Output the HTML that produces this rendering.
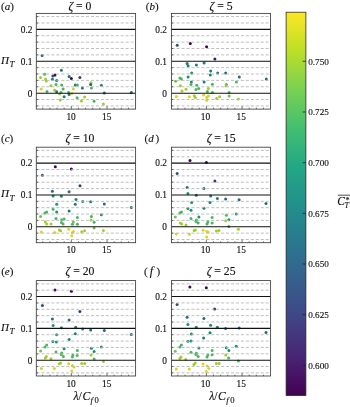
<!DOCTYPE html><html><head><meta charset="utf-8"><title>figure</title><style>html,body{margin:0;padding:0;background:#fff}svg{display:block}text{font-family:"Liberation Serif",serif;fill:#111;stroke:#111;stroke-width:0.13px;paint-order:stroke}</style></head><body>
<svg width="350" height="407" viewBox="0 0 350 407">
<defs><linearGradient id="vg" x1="0" y1="1" x2="0" y2="0">
<stop offset="0.00" stop-color="rgb(68,1,84)"/>
<stop offset="0.05" stop-color="rgb(70,18,100)"/>
<stop offset="0.10" stop-color="rgb(72,36,117)"/>
<stop offset="0.15" stop-color="rgb(68,52,126)"/>
<stop offset="0.20" stop-color="rgb(65,68,135)"/>
<stop offset="0.25" stop-color="rgb(59,82,138)"/>
<stop offset="0.30" stop-color="rgb(53,95,141)"/>
<stop offset="0.35" stop-color="rgb(48,108,142)"/>
<stop offset="0.40" stop-color="rgb(42,120,142)"/>
<stop offset="0.45" stop-color="rgb(38,132,141)"/>
<stop offset="0.50" stop-color="rgb(33,145,140)"/>
<stop offset="0.55" stop-color="rgb(34,156,136)"/>
<stop offset="0.60" stop-color="rgb(34,168,132)"/>
<stop offset="0.65" stop-color="rgb(51,180,122)"/>
<stop offset="0.70" stop-color="rgb(68,191,112)"/>
<stop offset="0.75" stop-color="rgb(95,200,96)"/>
<stop offset="0.80" stop-color="rgb(122,209,81)"/>
<stop offset="0.85" stop-color="rgb(155,216,60)"/>
<stop offset="0.90" stop-color="rgb(189,223,38)"/>
<stop offset="0.95" stop-color="rgb(221,227,38)"/>
<stop offset="1.00" stop-color="rgb(253,231,37)"/>
</linearGradient></defs>
<rect width="350" height="407" fill="#fff"/>
<circle cx="42.1" cy="55.4" r="1.5" fill="rgb(45,81,121)"/>
<circle cx="44.6" cy="74.3" r="1.5" fill="rgb(73,181,98)"/>
<circle cx="40.6" cy="77.4" r="1.5" fill="rgb(163,204,43)"/>
<circle cx="45.6" cy="78.9" r="1.5" fill="rgb(163,204,43)"/>
<circle cx="46.3" cy="81.0" r="1.5" fill="rgb(163,204,43)"/>
<circle cx="41.3" cy="88.9" r="1.5" fill="rgb(217,212,34)"/>
<circle cx="47.0" cy="91.4" r="1.5" fill="rgb(73,181,98)"/>
<circle cx="51.0" cy="85.7" r="1.5" fill="rgb(163,204,43)"/>
<circle cx="52.9" cy="76.0" r="1.5" fill="rgb(45,81,121)"/>
<circle cx="55.0" cy="75.0" r="1.5" fill="rgb(59,6,78)"/>
<circle cx="52.4" cy="79.3" r="1.5" fill="rgb(28,124,120)"/>
<circle cx="56.7" cy="80.6" r="1.5" fill="rgb(28,124,120)"/>
<circle cx="56.0" cy="84.6" r="1.5" fill="rgb(73,181,98)"/>
<circle cx="54.6" cy="90.3" r="1.5" fill="rgb(163,204,43)"/>
<circle cx="56.7" cy="91.7" r="1.5" fill="rgb(28,124,120)"/>
<circle cx="61.4" cy="70.3" r="1.5" fill="rgb(28,124,120)"/>
<circle cx="61.7" cy="85.0" r="1.5" fill="rgb(73,181,98)"/>
<circle cx="63.1" cy="88.9" r="1.5" fill="rgb(73,181,98)"/>
<circle cx="61.0" cy="92.4" r="1.5" fill="rgb(73,181,98)"/>
<circle cx="59.6" cy="93.9" r="1.5" fill="rgb(163,204,43)"/>
<circle cx="60.3" cy="99.9" r="1.5" fill="rgb(163,204,43)"/>
<circle cx="64.1" cy="96.7" r="1.5" fill="rgb(28,124,120)"/>
<circle cx="69.1" cy="76.4" r="1.5" fill="rgb(34,107,122)"/>
<circle cx="71.4" cy="78.4" r="1.5" fill="rgb(59,6,78)"/>
<circle cx="68.6" cy="92.4" r="1.5" fill="rgb(73,181,98)"/>
<circle cx="69.1" cy="94.6" r="1.5" fill="rgb(28,124,120)"/>
<circle cx="72.0" cy="93.6" r="1.5" fill="rgb(217,212,34)"/>
<circle cx="73.4" cy="88.9" r="1.5" fill="rgb(217,212,34)"/>
<circle cx="75.3" cy="85.0" r="1.5" fill="rgb(28,124,120)"/>
<circle cx="77.4" cy="85.0" r="1.5" fill="rgb(73,181,98)"/>
<circle cx="79.9" cy="77.4" r="1.5" fill="rgb(55,58,116)"/>
<circle cx="82.4" cy="88.1" r="1.5" fill="rgb(34,107,122)"/>
<circle cx="77.1" cy="97.7" r="1.5" fill="rgb(73,181,98)"/>
<circle cx="81.4" cy="101.0" r="1.5" fill="rgb(163,204,43)"/>
<circle cx="84.6" cy="97.1" r="1.5" fill="rgb(163,204,43)"/>
<circle cx="91.0" cy="82.7" r="1.5" fill="rgb(163,204,43)"/>
<circle cx="90.7" cy="84.6" r="1.5" fill="rgb(39,94,122)"/>
<circle cx="91.4" cy="88.1" r="1.5" fill="rgb(73,181,98)"/>
<circle cx="101.4" cy="85.3" r="1.5" fill="rgb(29,144,113)"/>
<circle cx="104.3" cy="93.1" r="1.5" fill="rgb(34,107,122)"/>
<circle cx="131.3" cy="92.4" r="1.5" fill="rgb(34,107,122)"/>
<circle cx="94.1" cy="101.3" r="1.5" fill="rgb(73,181,98)"/>
<circle cx="103.4" cy="103.9" r="1.5" fill="rgb(163,204,43)"/>
<line x1="36.3" x2="135.6" y1="105.91" y2="105.91" stroke="#b8b8b8" stroke-width="0.9" stroke-dasharray="3.05 1.9" stroke-dashoffset="-0.2"/>
<line x1="36.3" x2="38.0" y1="105.91" y2="105.91" stroke="#333" stroke-width="0.7"/>
<line x1="36.3" x2="135.6" y1="99.53" y2="99.53" stroke="#b8b8b8" stroke-width="0.9" stroke-dasharray="3.05 1.9" stroke-dashoffset="-0.2"/>
<line x1="36.3" x2="38.0" y1="99.53" y2="99.53" stroke="#333" stroke-width="0.7"/>
<line x1="36.3" x2="135.6" y1="86.77" y2="86.77" stroke="#b8b8b8" stroke-width="0.9" stroke-dasharray="3.05 1.9" stroke-dashoffset="-0.2"/>
<line x1="36.3" x2="38.0" y1="86.77" y2="86.77" stroke="#333" stroke-width="0.7"/>
<line x1="36.3" x2="135.6" y1="80.39" y2="80.39" stroke="#b8b8b8" stroke-width="0.9" stroke-dasharray="3.05 1.9" stroke-dashoffset="-0.2"/>
<line x1="36.3" x2="38.0" y1="80.39" y2="80.39" stroke="#333" stroke-width="0.7"/>
<line x1="36.3" x2="135.6" y1="74.01" y2="74.01" stroke="#b8b8b8" stroke-width="0.9" stroke-dasharray="3.05 1.9" stroke-dashoffset="-0.2"/>
<line x1="36.3" x2="38.0" y1="74.01" y2="74.01" stroke="#333" stroke-width="0.7"/>
<line x1="36.3" x2="135.6" y1="67.63" y2="67.63" stroke="#b8b8b8" stroke-width="0.9" stroke-dasharray="3.05 1.9" stroke-dashoffset="-0.2"/>
<line x1="36.3" x2="38.0" y1="67.63" y2="67.63" stroke="#333" stroke-width="0.7"/>
<line x1="36.3" x2="135.6" y1="54.87" y2="54.87" stroke="#b8b8b8" stroke-width="0.9" stroke-dasharray="3.05 1.9" stroke-dashoffset="-0.2"/>
<line x1="36.3" x2="38.0" y1="54.87" y2="54.87" stroke="#333" stroke-width="0.7"/>
<line x1="36.3" x2="135.6" y1="48.49" y2="48.49" stroke="#b8b8b8" stroke-width="0.9" stroke-dasharray="3.05 1.9" stroke-dashoffset="-0.2"/>
<line x1="36.3" x2="38.0" y1="48.49" y2="48.49" stroke="#333" stroke-width="0.7"/>
<line x1="36.3" x2="135.6" y1="42.11" y2="42.11" stroke="#b8b8b8" stroke-width="0.9" stroke-dasharray="3.05 1.9" stroke-dashoffset="-0.2"/>
<line x1="36.3" x2="38.0" y1="42.11" y2="42.11" stroke="#333" stroke-width="0.7"/>
<line x1="36.3" x2="135.6" y1="35.73" y2="35.73" stroke="#b8b8b8" stroke-width="0.9" stroke-dasharray="3.05 1.9" stroke-dashoffset="-0.2"/>
<line x1="36.3" x2="38.0" y1="35.73" y2="35.73" stroke="#333" stroke-width="0.7"/>
<line x1="36.3" x2="135.6" y1="22.97" y2="22.97" stroke="#b8b8b8" stroke-width="0.9" stroke-dasharray="3.05 1.9" stroke-dashoffset="-0.2"/>
<line x1="36.3" x2="38.0" y1="22.97" y2="22.97" stroke="#333" stroke-width="0.7"/>
<line x1="36.3" x2="135.6" y1="16.59" y2="16.59" stroke="#b8b8b8" stroke-width="0.9" stroke-dasharray="3.05 1.9" stroke-dashoffset="-0.2"/>
<line x1="36.3" x2="38.0" y1="16.59" y2="16.59" stroke="#333" stroke-width="0.7"/>
<line x1="36.3" x2="135.6" y1="93.15" y2="93.15" stroke="#111" stroke-width="1.05"/>
<text x="32.4" y="96.85" font-size="9.35" text-anchor="end">0</text>
<line x1="36.3" x2="135.6" y1="61.25" y2="61.25" stroke="#111" stroke-width="1.05"/>
<text x="32.4" y="64.95" font-size="9.35" text-anchor="end">0.1</text>
<line x1="36.3" x2="135.6" y1="29.35" y2="29.35" stroke="#111" stroke-width="1.05"/>
<text x="32.4" y="33.05" font-size="9.35" text-anchor="end">0.2</text>
<line x1="42.73" x2="42.73" y1="109.1" y2="107.7" stroke="#333" stroke-width="0.7"/>
<line x1="49.87" x2="49.87" y1="109.1" y2="107.7" stroke="#333" stroke-width="0.7"/>
<line x1="57.02" x2="57.02" y1="109.1" y2="107.7" stroke="#333" stroke-width="0.7"/>
<line x1="64.16" x2="64.16" y1="109.1" y2="107.7" stroke="#333" stroke-width="0.7"/>
<line x1="71.31" x2="71.31" y1="109.1" y2="106.1" stroke="#333" stroke-width="0.7"/>
<text x="71.1" y="119.8" font-size="9.4" text-anchor="middle">10</text>
<line x1="78.45" x2="78.45" y1="109.1" y2="107.7" stroke="#333" stroke-width="0.7"/>
<line x1="85.59" x2="85.59" y1="109.1" y2="107.7" stroke="#333" stroke-width="0.7"/>
<line x1="92.74" x2="92.74" y1="109.1" y2="107.7" stroke="#333" stroke-width="0.7"/>
<line x1="99.88" x2="99.88" y1="109.1" y2="107.7" stroke="#333" stroke-width="0.7"/>
<line x1="107.02" x2="107.02" y1="109.1" y2="106.1" stroke="#333" stroke-width="0.7"/>
<text x="106.8" y="119.8" font-size="9.4" text-anchor="middle">15</text>
<line x1="114.17" x2="114.17" y1="109.1" y2="107.7" stroke="#333" stroke-width="0.7"/>
<line x1="121.31" x2="121.31" y1="109.1" y2="107.7" stroke="#333" stroke-width="0.7"/>
<line x1="128.46" x2="128.46" y1="109.1" y2="107.7" stroke="#333" stroke-width="0.7"/>
<rect x="36.3" y="13.4" width="99.3" height="95.7" fill="none" stroke="#3c3c3c" stroke-width="0.85"/>
<text x="79.9" y="10.3" font-size="11.7" text-anchor="middle"><tspan font-style="italic">ζ</tspan> = 0</text>
<text x="1.0" y="10.05" font-size="11">(<tspan font-style="italic" font-size="11" dx="0">a</tspan><tspan dx="0">)</tspan></text>
<text x="1.0" y="63.6" font-size="11" font-style="italic">Π</text><text x="9.6" y="66.8" font-size="8.8" font-style="italic">T</text>
<circle cx="177.2" cy="45.2" r="1.5" fill="rgb(45,81,121)"/>
<circle cx="190.3" cy="43.5" r="1.5" fill="rgb(59,6,78)"/>
<circle cx="206.6" cy="46.7" r="1.5" fill="rgb(59,6,78)"/>
<circle cx="214.9" cy="58.9" r="1.5" fill="rgb(61,30,100)"/>
<circle cx="187.1" cy="63.6" r="1.5" fill="rgb(28,124,120)"/>
<circle cx="188.1" cy="65.7" r="1.5" fill="rgb(28,124,120)"/>
<circle cx="196.4" cy="64.9" r="1.5" fill="rgb(28,124,120)"/>
<circle cx="204.1" cy="63.1" r="1.5" fill="rgb(28,124,120)"/>
<circle cx="210.7" cy="71.0" r="1.5" fill="rgb(28,124,120)"/>
<circle cx="191.7" cy="73.1" r="1.5" fill="rgb(29,144,113)"/>
<circle cx="210.3" cy="75.0" r="1.5" fill="rgb(28,124,120)"/>
<circle cx="217.7" cy="73.1" r="1.5" fill="rgb(28,124,120)"/>
<circle cx="188.1" cy="77.1" r="1.5" fill="rgb(29,144,113)"/>
<circle cx="179.9" cy="77.9" r="1.5" fill="rgb(73,181,98)"/>
<circle cx="181.4" cy="78.9" r="1.5" fill="rgb(73,181,98)"/>
<circle cx="175.6" cy="81.3" r="1.5" fill="rgb(113,194,75)"/>
<circle cx="191.4" cy="82.1" r="1.5" fill="rgb(29,144,113)"/>
<circle cx="191.0" cy="84.6" r="1.5" fill="rgb(73,181,98)"/>
<circle cx="204.1" cy="82.1" r="1.5" fill="rgb(28,124,120)"/>
<circle cx="212.4" cy="84.3" r="1.5" fill="rgb(73,181,98)"/>
<circle cx="180.3" cy="85.7" r="1.5" fill="rgb(163,204,43)"/>
<circle cx="196.7" cy="85.3" r="1.5" fill="rgb(73,181,98)"/>
<circle cx="198.6" cy="88.4" r="1.5" fill="rgb(73,181,98)"/>
<circle cx="196.0" cy="89.6" r="1.5" fill="rgb(73,181,98)"/>
<circle cx="186.0" cy="89.3" r="1.5" fill="rgb(163,204,43)"/>
<circle cx="182.0" cy="91.0" r="1.5" fill="rgb(163,204,43)"/>
<circle cx="208.4" cy="88.4" r="1.5" fill="rgb(163,204,43)"/>
<circle cx="207.4" cy="91.4" r="1.5" fill="rgb(73,181,98)"/>
<circle cx="212.4" cy="92.4" r="1.5" fill="rgb(73,181,98)"/>
<circle cx="176.3" cy="96.4" r="1.5" fill="rgb(217,212,34)"/>
<circle cx="189.3" cy="96.7" r="1.5" fill="rgb(217,212,34)"/>
<circle cx="194.3" cy="95.7" r="1.5" fill="rgb(163,204,43)"/>
<circle cx="195.3" cy="97.4" r="1.5" fill="rgb(163,204,43)"/>
<circle cx="203.6" cy="95.0" r="1.5" fill="rgb(217,212,34)"/>
<circle cx="208.4" cy="96.0" r="1.5" fill="rgb(217,212,34)"/>
<circle cx="206.7" cy="97.4" r="1.5" fill="rgb(217,212,34)"/>
<circle cx="206.7" cy="100.3" r="1.5" fill="rgb(217,212,34)"/>
<circle cx="216.7" cy="98.4" r="1.5" fill="rgb(163,204,43)"/>
<circle cx="219.6" cy="96.7" r="1.5" fill="rgb(163,204,43)"/>
<circle cx="225.7" cy="72.9" r="1.5" fill="rgb(34,107,122)"/>
<circle cx="239.3" cy="77.0" r="1.5" fill="rgb(34,107,122)"/>
<circle cx="266.3" cy="79.1" r="1.5" fill="rgb(34,107,122)"/>
<circle cx="236.4" cy="82.1" r="1.5" fill="rgb(73,181,98)"/>
<circle cx="226.4" cy="84.6" r="1.5" fill="rgb(73,181,98)"/>
<circle cx="226.0" cy="85.7" r="1.5" fill="rgb(163,204,43)"/>
<circle cx="229.1" cy="92.4" r="1.5" fill="rgb(73,181,98)"/>
<circle cx="229.1" cy="96.0" r="1.5" fill="rgb(113,194,75)"/>
<circle cx="238.4" cy="98.9" r="1.5" fill="rgb(163,204,43)"/>
<line x1="171.4" x2="270.6" y1="105.91" y2="105.91" stroke="#b8b8b8" stroke-width="0.9" stroke-dasharray="3.05 1.9" stroke-dashoffset="-0.2"/>
<line x1="171.4" x2="173.1" y1="105.91" y2="105.91" stroke="#333" stroke-width="0.7"/>
<line x1="171.4" x2="270.6" y1="99.53" y2="99.53" stroke="#b8b8b8" stroke-width="0.9" stroke-dasharray="3.05 1.9" stroke-dashoffset="-0.2"/>
<line x1="171.4" x2="173.1" y1="99.53" y2="99.53" stroke="#333" stroke-width="0.7"/>
<line x1="171.4" x2="270.6" y1="86.77" y2="86.77" stroke="#b8b8b8" stroke-width="0.9" stroke-dasharray="3.05 1.9" stroke-dashoffset="-0.2"/>
<line x1="171.4" x2="173.1" y1="86.77" y2="86.77" stroke="#333" stroke-width="0.7"/>
<line x1="171.4" x2="270.6" y1="80.39" y2="80.39" stroke="#b8b8b8" stroke-width="0.9" stroke-dasharray="3.05 1.9" stroke-dashoffset="-0.2"/>
<line x1="171.4" x2="173.1" y1="80.39" y2="80.39" stroke="#333" stroke-width="0.7"/>
<line x1="171.4" x2="270.6" y1="74.01" y2="74.01" stroke="#b8b8b8" stroke-width="0.9" stroke-dasharray="3.05 1.9" stroke-dashoffset="-0.2"/>
<line x1="171.4" x2="173.1" y1="74.01" y2="74.01" stroke="#333" stroke-width="0.7"/>
<line x1="171.4" x2="270.6" y1="67.63" y2="67.63" stroke="#b8b8b8" stroke-width="0.9" stroke-dasharray="3.05 1.9" stroke-dashoffset="-0.2"/>
<line x1="171.4" x2="173.1" y1="67.63" y2="67.63" stroke="#333" stroke-width="0.7"/>
<line x1="171.4" x2="270.6" y1="54.87" y2="54.87" stroke="#b8b8b8" stroke-width="0.9" stroke-dasharray="3.05 1.9" stroke-dashoffset="-0.2"/>
<line x1="171.4" x2="173.1" y1="54.87" y2="54.87" stroke="#333" stroke-width="0.7"/>
<line x1="171.4" x2="270.6" y1="48.49" y2="48.49" stroke="#b8b8b8" stroke-width="0.9" stroke-dasharray="3.05 1.9" stroke-dashoffset="-0.2"/>
<line x1="171.4" x2="173.1" y1="48.49" y2="48.49" stroke="#333" stroke-width="0.7"/>
<line x1="171.4" x2="270.6" y1="42.11" y2="42.11" stroke="#b8b8b8" stroke-width="0.9" stroke-dasharray="3.05 1.9" stroke-dashoffset="-0.2"/>
<line x1="171.4" x2="173.1" y1="42.11" y2="42.11" stroke="#333" stroke-width="0.7"/>
<line x1="171.4" x2="270.6" y1="35.73" y2="35.73" stroke="#b8b8b8" stroke-width="0.9" stroke-dasharray="3.05 1.9" stroke-dashoffset="-0.2"/>
<line x1="171.4" x2="173.1" y1="35.73" y2="35.73" stroke="#333" stroke-width="0.7"/>
<line x1="171.4" x2="270.6" y1="22.97" y2="22.97" stroke="#b8b8b8" stroke-width="0.9" stroke-dasharray="3.05 1.9" stroke-dashoffset="-0.2"/>
<line x1="171.4" x2="173.1" y1="22.97" y2="22.97" stroke="#333" stroke-width="0.7"/>
<line x1="171.4" x2="270.6" y1="16.59" y2="16.59" stroke="#b8b8b8" stroke-width="0.9" stroke-dasharray="3.05 1.9" stroke-dashoffset="-0.2"/>
<line x1="171.4" x2="173.1" y1="16.59" y2="16.59" stroke="#333" stroke-width="0.7"/>
<line x1="171.4" x2="270.6" y1="93.15" y2="93.15" stroke="#111" stroke-width="1.05"/>
<text x="166.9" y="96.85" font-size="9.35" text-anchor="end">0</text>
<line x1="171.4" x2="270.6" y1="61.25" y2="61.25" stroke="#111" stroke-width="1.05"/>
<text x="166.9" y="64.95" font-size="9.35" text-anchor="end">0.1</text>
<line x1="171.4" x2="270.6" y1="29.35" y2="29.35" stroke="#111" stroke-width="1.05"/>
<text x="166.9" y="33.05" font-size="9.35" text-anchor="end">0.2</text>
<line x1="177.82" x2="177.82" y1="109.1" y2="107.7" stroke="#333" stroke-width="0.7"/>
<line x1="184.96" x2="184.96" y1="109.1" y2="107.7" stroke="#333" stroke-width="0.7"/>
<line x1="192.10" x2="192.10" y1="109.1" y2="107.7" stroke="#333" stroke-width="0.7"/>
<line x1="199.23" x2="199.23" y1="109.1" y2="107.7" stroke="#333" stroke-width="0.7"/>
<line x1="206.37" x2="206.37" y1="109.1" y2="106.1" stroke="#333" stroke-width="0.7"/>
<text x="205.5" y="119.8" font-size="9.4" text-anchor="middle">10</text>
<line x1="213.51" x2="213.51" y1="109.1" y2="107.7" stroke="#333" stroke-width="0.7"/>
<line x1="220.64" x2="220.64" y1="109.1" y2="107.7" stroke="#333" stroke-width="0.7"/>
<line x1="227.78" x2="227.78" y1="109.1" y2="107.7" stroke="#333" stroke-width="0.7"/>
<line x1="234.92" x2="234.92" y1="109.1" y2="107.7" stroke="#333" stroke-width="0.7"/>
<line x1="242.05" x2="242.05" y1="109.1" y2="106.1" stroke="#333" stroke-width="0.7"/>
<text x="241.2" y="119.8" font-size="9.4" text-anchor="middle">15</text>
<line x1="249.19" x2="249.19" y1="109.1" y2="107.7" stroke="#333" stroke-width="0.7"/>
<line x1="256.33" x2="256.33" y1="109.1" y2="107.7" stroke="#333" stroke-width="0.7"/>
<line x1="263.46" x2="263.46" y1="109.1" y2="107.7" stroke="#333" stroke-width="0.7"/>
<rect x="171.4" y="13.4" width="99.2" height="95.7" fill="none" stroke="#3c3c3c" stroke-width="0.85"/>
<text x="221.1" y="10.3" font-size="11.7" text-anchor="middle"><tspan font-style="italic">ζ</tspan> = 5</text>
<text x="145.8" y="10.05" font-size="11">(<tspan font-style="italic" font-size="11" dx="0">b</tspan><tspan dx="0">)</tspan></text>
<circle cx="55.3" cy="166.7" r="1.5" fill="rgb(59,6,78)"/>
<circle cx="71.4" cy="169.0" r="1.5" fill="rgb(59,6,78)"/>
<circle cx="42.4" cy="175.3" r="1.5" fill="rgb(45,81,121)"/>
<circle cx="80.0" cy="185.7" r="1.5" fill="rgb(55,58,116)"/>
<circle cx="52.4" cy="191.3" r="1.5" fill="rgb(34,107,122)"/>
<circle cx="69.1" cy="191.8" r="1.5" fill="rgb(34,107,122)"/>
<circle cx="53.1" cy="195.9" r="1.5" fill="rgb(29,144,113)"/>
<circle cx="61.4" cy="196.3" r="1.5" fill="rgb(29,144,113)"/>
<circle cx="76.0" cy="199.5" r="1.5" fill="rgb(28,124,120)"/>
<circle cx="82.7" cy="201.4" r="1.5" fill="rgb(29,144,113)"/>
<circle cx="56.7" cy="204.3" r="1.5" fill="rgb(29,144,113)"/>
<circle cx="75.3" cy="204.3" r="1.5" fill="rgb(28,124,120)"/>
<circle cx="53.1" cy="209.3" r="1.5" fill="rgb(73,181,98)"/>
<circle cx="56.7" cy="212.1" r="1.5" fill="rgb(29,144,113)"/>
<circle cx="69.1" cy="211.1" r="1.5" fill="rgb(28,124,120)"/>
<circle cx="44.9" cy="212.9" r="1.5" fill="rgb(73,181,98)"/>
<circle cx="46.7" cy="212.1" r="1.5" fill="rgb(73,181,98)"/>
<circle cx="40.6" cy="216.4" r="1.5" fill="rgb(113,194,75)"/>
<circle cx="56.0" cy="218.6" r="1.5" fill="rgb(73,181,98)"/>
<circle cx="61.7" cy="219.7" r="1.5" fill="rgb(73,181,98)"/>
<circle cx="64.1" cy="219.0" r="1.5" fill="rgb(73,181,98)"/>
<circle cx="77.4" cy="217.4" r="1.5" fill="rgb(73,181,98)"/>
<circle cx="45.3" cy="222.1" r="1.5" fill="rgb(163,204,43)"/>
<circle cx="46.7" cy="224.0" r="1.5" fill="rgb(163,204,43)"/>
<circle cx="51.0" cy="224.0" r="1.5" fill="rgb(163,204,43)"/>
<circle cx="61.4" cy="222.6" r="1.5" fill="rgb(73,181,98)"/>
<circle cx="63.1" cy="223.9" r="1.5" fill="rgb(73,181,98)"/>
<circle cx="73.4" cy="222.1" r="1.5" fill="rgb(113,194,75)"/>
<circle cx="72.4" cy="224.3" r="1.5" fill="rgb(73,181,98)"/>
<circle cx="77.4" cy="224.3" r="1.5" fill="rgb(73,181,98)"/>
<circle cx="41.3" cy="232.1" r="1.5" fill="rgb(217,212,34)"/>
<circle cx="54.6" cy="232.4" r="1.5" fill="rgb(217,212,34)"/>
<circle cx="59.3" cy="230.0" r="1.5" fill="rgb(163,204,43)"/>
<circle cx="60.6" cy="230.7" r="1.5" fill="rgb(163,204,43)"/>
<circle cx="68.6" cy="229.3" r="1.5" fill="rgb(217,212,34)"/>
<circle cx="73.4" cy="231.4" r="1.5" fill="rgb(217,212,34)"/>
<circle cx="72.4" cy="232.4" r="1.5" fill="rgb(217,212,34)"/>
<circle cx="71.7" cy="235.7" r="1.5" fill="rgb(217,212,34)"/>
<circle cx="81.7" cy="231.7" r="1.5" fill="rgb(163,204,43)"/>
<circle cx="84.6" cy="230.7" r="1.5" fill="rgb(163,204,43)"/>
<circle cx="90.7" cy="201.8" r="1.5" fill="rgb(28,124,120)"/>
<circle cx="104.3" cy="204.1" r="1.5" fill="rgb(34,107,122)"/>
<circle cx="131.3" cy="207.5" r="1.5" fill="rgb(34,107,122)"/>
<circle cx="101.4" cy="214.7" r="1.5" fill="rgb(29,144,113)"/>
<circle cx="91.4" cy="216.5" r="1.5" fill="rgb(73,181,98)"/>
<circle cx="91.0" cy="220.0" r="1.5" fill="rgb(163,204,43)"/>
<circle cx="94.1" cy="222.3" r="1.5" fill="rgb(73,181,98)"/>
<circle cx="94.1" cy="227.9" r="1.5" fill="rgb(113,194,75)"/>
<circle cx="103.4" cy="230.4" r="1.5" fill="rgb(163,204,43)"/>
<line x1="36.3" x2="135.6" y1="239.52" y2="239.52" stroke="#b8b8b8" stroke-width="0.9" stroke-dasharray="3.05 1.9" stroke-dashoffset="-0.2"/>
<line x1="36.3" x2="38.0" y1="239.52" y2="239.52" stroke="#333" stroke-width="0.7"/>
<line x1="36.3" x2="135.6" y1="233.15" y2="233.15" stroke="#b8b8b8" stroke-width="0.9" stroke-dasharray="3.05 1.9" stroke-dashoffset="-0.2"/>
<line x1="36.3" x2="38.0" y1="233.15" y2="233.15" stroke="#333" stroke-width="0.7"/>
<line x1="36.3" x2="135.6" y1="220.42" y2="220.42" stroke="#b8b8b8" stroke-width="0.9" stroke-dasharray="3.05 1.9" stroke-dashoffset="-0.2"/>
<line x1="36.3" x2="38.0" y1="220.42" y2="220.42" stroke="#333" stroke-width="0.7"/>
<line x1="36.3" x2="135.6" y1="214.05" y2="214.05" stroke="#b8b8b8" stroke-width="0.9" stroke-dasharray="3.05 1.9" stroke-dashoffset="-0.2"/>
<line x1="36.3" x2="38.0" y1="214.05" y2="214.05" stroke="#333" stroke-width="0.7"/>
<line x1="36.3" x2="135.6" y1="207.68" y2="207.68" stroke="#b8b8b8" stroke-width="0.9" stroke-dasharray="3.05 1.9" stroke-dashoffset="-0.2"/>
<line x1="36.3" x2="38.0" y1="207.68" y2="207.68" stroke="#333" stroke-width="0.7"/>
<line x1="36.3" x2="135.6" y1="201.32" y2="201.32" stroke="#b8b8b8" stroke-width="0.9" stroke-dasharray="3.05 1.9" stroke-dashoffset="-0.2"/>
<line x1="36.3" x2="38.0" y1="201.32" y2="201.32" stroke="#333" stroke-width="0.7"/>
<line x1="36.3" x2="135.6" y1="188.58" y2="188.58" stroke="#b8b8b8" stroke-width="0.9" stroke-dasharray="3.05 1.9" stroke-dashoffset="-0.2"/>
<line x1="36.3" x2="38.0" y1="188.58" y2="188.58" stroke="#333" stroke-width="0.7"/>
<line x1="36.3" x2="135.6" y1="182.22" y2="182.22" stroke="#b8b8b8" stroke-width="0.9" stroke-dasharray="3.05 1.9" stroke-dashoffset="-0.2"/>
<line x1="36.3" x2="38.0" y1="182.22" y2="182.22" stroke="#333" stroke-width="0.7"/>
<line x1="36.3" x2="135.6" y1="175.85" y2="175.85" stroke="#b8b8b8" stroke-width="0.9" stroke-dasharray="3.05 1.9" stroke-dashoffset="-0.2"/>
<line x1="36.3" x2="38.0" y1="175.85" y2="175.85" stroke="#333" stroke-width="0.7"/>
<line x1="36.3" x2="135.6" y1="169.48" y2="169.48" stroke="#b8b8b8" stroke-width="0.9" stroke-dasharray="3.05 1.9" stroke-dashoffset="-0.2"/>
<line x1="36.3" x2="38.0" y1="169.48" y2="169.48" stroke="#333" stroke-width="0.7"/>
<line x1="36.3" x2="135.6" y1="156.75" y2="156.75" stroke="#b8b8b8" stroke-width="0.9" stroke-dasharray="3.05 1.9" stroke-dashoffset="-0.2"/>
<line x1="36.3" x2="38.0" y1="156.75" y2="156.75" stroke="#333" stroke-width="0.7"/>
<line x1="36.3" x2="135.6" y1="150.38" y2="150.38" stroke="#b8b8b8" stroke-width="0.9" stroke-dasharray="3.05 1.9" stroke-dashoffset="-0.2"/>
<line x1="36.3" x2="38.0" y1="150.38" y2="150.38" stroke="#333" stroke-width="0.7"/>
<line x1="36.3" x2="135.6" y1="226.78" y2="226.78" stroke="#111" stroke-width="1.05"/>
<text x="32.4" y="229.83" font-size="9.35" text-anchor="end">0</text>
<line x1="36.3" x2="135.6" y1="194.95" y2="194.95" stroke="#111" stroke-width="1.05"/>
<text x="32.4" y="198.00" font-size="9.35" text-anchor="end">0.1</text>
<line x1="36.3" x2="135.6" y1="163.12" y2="163.12" stroke="#111" stroke-width="1.05"/>
<text x="32.4" y="166.17" font-size="9.35" text-anchor="end">0.2</text>
<line x1="42.73" x2="42.73" y1="242.7" y2="241.3" stroke="#333" stroke-width="0.7"/>
<line x1="49.87" x2="49.87" y1="242.7" y2="241.3" stroke="#333" stroke-width="0.7"/>
<line x1="57.02" x2="57.02" y1="242.7" y2="241.3" stroke="#333" stroke-width="0.7"/>
<line x1="64.16" x2="64.16" y1="242.7" y2="241.3" stroke="#333" stroke-width="0.7"/>
<line x1="71.31" x2="71.31" y1="242.7" y2="239.7" stroke="#333" stroke-width="0.7"/>
<text x="71.1" y="252.8" font-size="9.4" text-anchor="middle">10</text>
<line x1="78.45" x2="78.45" y1="242.7" y2="241.3" stroke="#333" stroke-width="0.7"/>
<line x1="85.59" x2="85.59" y1="242.7" y2="241.3" stroke="#333" stroke-width="0.7"/>
<line x1="92.74" x2="92.74" y1="242.7" y2="241.3" stroke="#333" stroke-width="0.7"/>
<line x1="99.88" x2="99.88" y1="242.7" y2="241.3" stroke="#333" stroke-width="0.7"/>
<line x1="107.02" x2="107.02" y1="242.7" y2="239.7" stroke="#333" stroke-width="0.7"/>
<text x="106.8" y="252.8" font-size="9.4" text-anchor="middle">15</text>
<line x1="114.17" x2="114.17" y1="242.7" y2="241.3" stroke="#333" stroke-width="0.7"/>
<line x1="121.31" x2="121.31" y1="242.7" y2="241.3" stroke="#333" stroke-width="0.7"/>
<line x1="128.46" x2="128.46" y1="242.7" y2="241.3" stroke="#333" stroke-width="0.7"/>
<rect x="36.3" y="147.2" width="99.3" height="95.5" fill="none" stroke="#3c3c3c" stroke-width="0.85"/>
<text x="79.9" y="141.8" font-size="11.7" text-anchor="middle"><tspan font-style="italic">ζ</tspan> = 10</text>
<text x="1.0" y="141.55" font-size="11">(<tspan font-style="italic" font-size="11" dx="0">c</tspan><tspan dx="0">)</tspan></text>
<text x="1.0" y="197.3" font-size="11" font-style="italic">Π</text><text x="9.6" y="200.5" font-size="8.8" font-style="italic">T</text>
<circle cx="190.0" cy="160.4" r="1.5" fill="rgb(59,6,78)"/>
<circle cx="206.4" cy="162.4" r="1.5" fill="rgb(59,6,78)"/>
<circle cx="177.1" cy="173.6" r="1.5" fill="rgb(45,81,121)"/>
<circle cx="214.9" cy="181.1" r="1.5" fill="rgb(55,58,116)"/>
<circle cx="187.1" cy="187.6" r="1.5" fill="rgb(34,107,122)"/>
<circle cx="203.9" cy="188.6" r="1.5" fill="rgb(34,107,122)"/>
<circle cx="187.9" cy="193.6" r="1.5" fill="rgb(29,144,113)"/>
<circle cx="196.3" cy="195.3" r="1.5" fill="rgb(28,124,120)"/>
<circle cx="210.7" cy="196.1" r="1.5" fill="rgb(28,124,120)"/>
<circle cx="217.4" cy="198.5" r="1.5" fill="rgb(28,124,120)"/>
<circle cx="191.7" cy="202.6" r="1.5" fill="rgb(29,144,113)"/>
<circle cx="210.0" cy="202.4" r="1.5" fill="rgb(28,124,120)"/>
<circle cx="187.9" cy="208.6" r="1.5" fill="rgb(29,144,113)"/>
<circle cx="191.0" cy="210.3" r="1.5" fill="rgb(29,144,113)"/>
<circle cx="203.9" cy="208.3" r="1.5" fill="rgb(28,124,120)"/>
<circle cx="179.9" cy="212.9" r="1.5" fill="rgb(73,181,98)"/>
<circle cx="181.4" cy="211.9" r="1.5" fill="rgb(73,181,98)"/>
<circle cx="175.3" cy="217.1" r="1.5" fill="rgb(113,194,75)"/>
<circle cx="198.9" cy="216.9" r="1.5" fill="rgb(29,144,113)"/>
<circle cx="212.1" cy="217.4" r="1.5" fill="rgb(73,181,98)"/>
<circle cx="191.0" cy="218.6" r="1.5" fill="rgb(73,181,98)"/>
<circle cx="196.4" cy="220.0" r="1.5" fill="rgb(73,181,98)"/>
<circle cx="196.0" cy="221.4" r="1.5" fill="rgb(73,181,98)"/>
<circle cx="198.1" cy="223.1" r="1.5" fill="rgb(73,181,98)"/>
<circle cx="180.3" cy="222.9" r="1.5" fill="rgb(163,204,43)"/>
<circle cx="181.7" cy="224.0" r="1.5" fill="rgb(163,204,43)"/>
<circle cx="186.0" cy="225.0" r="1.5" fill="rgb(163,204,43)"/>
<circle cx="207.9" cy="222.1" r="1.5" fill="rgb(73,181,98)"/>
<circle cx="207.0" cy="223.9" r="1.5" fill="rgb(73,181,98)"/>
<circle cx="212.1" cy="223.1" r="1.5" fill="rgb(73,181,98)"/>
<circle cx="176.3" cy="234.0" r="1.5" fill="rgb(217,212,34)"/>
<circle cx="189.3" cy="234.3" r="1.5" fill="rgb(217,212,34)"/>
<circle cx="194.1" cy="230.4" r="1.5" fill="rgb(163,204,43)"/>
<circle cx="195.3" cy="230.0" r="1.5" fill="rgb(163,204,43)"/>
<circle cx="203.1" cy="230.3" r="1.5" fill="rgb(217,212,34)"/>
<circle cx="208.1" cy="232.1" r="1.5" fill="rgb(217,212,34)"/>
<circle cx="206.7" cy="231.4" r="1.5" fill="rgb(217,212,34)"/>
<circle cx="206.7" cy="236.9" r="1.5" fill="rgb(217,212,34)"/>
<circle cx="216.4" cy="231.0" r="1.5" fill="rgb(163,204,43)"/>
<circle cx="218.9" cy="230.4" r="1.5" fill="rgb(163,204,43)"/>
<circle cx="225.6" cy="198.9" r="1.5" fill="rgb(34,107,122)"/>
<circle cx="239.1" cy="199.7" r="1.5" fill="rgb(34,107,122)"/>
<circle cx="266.0" cy="203.6" r="1.5" fill="rgb(34,107,122)"/>
<circle cx="236.3" cy="214.0" r="1.5" fill="rgb(29,144,113)"/>
<circle cx="226.4" cy="215.3" r="1.5" fill="rgb(73,181,98)"/>
<circle cx="228.9" cy="219.7" r="1.5" fill="rgb(29,144,113)"/>
<circle cx="225.7" cy="220.7" r="1.5" fill="rgb(163,204,43)"/>
<circle cx="228.9" cy="226.4" r="1.5" fill="rgb(73,181,98)"/>
<circle cx="238.4" cy="229.3" r="1.5" fill="rgb(163,204,43)"/>
<line x1="171.4" x2="270.6" y1="239.52" y2="239.52" stroke="#b8b8b8" stroke-width="0.9" stroke-dasharray="3.05 1.9" stroke-dashoffset="-0.2"/>
<line x1="171.4" x2="173.1" y1="239.52" y2="239.52" stroke="#333" stroke-width="0.7"/>
<line x1="171.4" x2="270.6" y1="233.15" y2="233.15" stroke="#b8b8b8" stroke-width="0.9" stroke-dasharray="3.05 1.9" stroke-dashoffset="-0.2"/>
<line x1="171.4" x2="173.1" y1="233.15" y2="233.15" stroke="#333" stroke-width="0.7"/>
<line x1="171.4" x2="270.6" y1="220.42" y2="220.42" stroke="#b8b8b8" stroke-width="0.9" stroke-dasharray="3.05 1.9" stroke-dashoffset="-0.2"/>
<line x1="171.4" x2="173.1" y1="220.42" y2="220.42" stroke="#333" stroke-width="0.7"/>
<line x1="171.4" x2="270.6" y1="214.05" y2="214.05" stroke="#b8b8b8" stroke-width="0.9" stroke-dasharray="3.05 1.9" stroke-dashoffset="-0.2"/>
<line x1="171.4" x2="173.1" y1="214.05" y2="214.05" stroke="#333" stroke-width="0.7"/>
<line x1="171.4" x2="270.6" y1="207.68" y2="207.68" stroke="#b8b8b8" stroke-width="0.9" stroke-dasharray="3.05 1.9" stroke-dashoffset="-0.2"/>
<line x1="171.4" x2="173.1" y1="207.68" y2="207.68" stroke="#333" stroke-width="0.7"/>
<line x1="171.4" x2="270.6" y1="201.32" y2="201.32" stroke="#b8b8b8" stroke-width="0.9" stroke-dasharray="3.05 1.9" stroke-dashoffset="-0.2"/>
<line x1="171.4" x2="173.1" y1="201.32" y2="201.32" stroke="#333" stroke-width="0.7"/>
<line x1="171.4" x2="270.6" y1="188.58" y2="188.58" stroke="#b8b8b8" stroke-width="0.9" stroke-dasharray="3.05 1.9" stroke-dashoffset="-0.2"/>
<line x1="171.4" x2="173.1" y1="188.58" y2="188.58" stroke="#333" stroke-width="0.7"/>
<line x1="171.4" x2="270.6" y1="182.22" y2="182.22" stroke="#b8b8b8" stroke-width="0.9" stroke-dasharray="3.05 1.9" stroke-dashoffset="-0.2"/>
<line x1="171.4" x2="173.1" y1="182.22" y2="182.22" stroke="#333" stroke-width="0.7"/>
<line x1="171.4" x2="270.6" y1="175.85" y2="175.85" stroke="#b8b8b8" stroke-width="0.9" stroke-dasharray="3.05 1.9" stroke-dashoffset="-0.2"/>
<line x1="171.4" x2="173.1" y1="175.85" y2="175.85" stroke="#333" stroke-width="0.7"/>
<line x1="171.4" x2="270.6" y1="169.48" y2="169.48" stroke="#b8b8b8" stroke-width="0.9" stroke-dasharray="3.05 1.9" stroke-dashoffset="-0.2"/>
<line x1="171.4" x2="173.1" y1="169.48" y2="169.48" stroke="#333" stroke-width="0.7"/>
<line x1="171.4" x2="270.6" y1="156.75" y2="156.75" stroke="#b8b8b8" stroke-width="0.9" stroke-dasharray="3.05 1.9" stroke-dashoffset="-0.2"/>
<line x1="171.4" x2="173.1" y1="156.75" y2="156.75" stroke="#333" stroke-width="0.7"/>
<line x1="171.4" x2="270.6" y1="150.38" y2="150.38" stroke="#b8b8b8" stroke-width="0.9" stroke-dasharray="3.05 1.9" stroke-dashoffset="-0.2"/>
<line x1="171.4" x2="173.1" y1="150.38" y2="150.38" stroke="#333" stroke-width="0.7"/>
<line x1="171.4" x2="270.6" y1="226.78" y2="226.78" stroke="#111" stroke-width="1.05"/>
<text x="166.9" y="229.83" font-size="9.35" text-anchor="end">0</text>
<line x1="171.4" x2="270.6" y1="194.95" y2="194.95" stroke="#111" stroke-width="1.05"/>
<text x="166.9" y="198.00" font-size="9.35" text-anchor="end">0.1</text>
<line x1="171.4" x2="270.6" y1="163.12" y2="163.12" stroke="#111" stroke-width="1.05"/>
<text x="166.9" y="166.17" font-size="9.35" text-anchor="end">0.2</text>
<line x1="177.82" x2="177.82" y1="242.7" y2="241.3" stroke="#333" stroke-width="0.7"/>
<line x1="184.96" x2="184.96" y1="242.7" y2="241.3" stroke="#333" stroke-width="0.7"/>
<line x1="192.10" x2="192.10" y1="242.7" y2="241.3" stroke="#333" stroke-width="0.7"/>
<line x1="199.23" x2="199.23" y1="242.7" y2="241.3" stroke="#333" stroke-width="0.7"/>
<line x1="206.37" x2="206.37" y1="242.7" y2="239.7" stroke="#333" stroke-width="0.7"/>
<text x="205.5" y="252.8" font-size="9.4" text-anchor="middle">10</text>
<line x1="213.51" x2="213.51" y1="242.7" y2="241.3" stroke="#333" stroke-width="0.7"/>
<line x1="220.64" x2="220.64" y1="242.7" y2="241.3" stroke="#333" stroke-width="0.7"/>
<line x1="227.78" x2="227.78" y1="242.7" y2="241.3" stroke="#333" stroke-width="0.7"/>
<line x1="234.92" x2="234.92" y1="242.7" y2="241.3" stroke="#333" stroke-width="0.7"/>
<line x1="242.05" x2="242.05" y1="242.7" y2="239.7" stroke="#333" stroke-width="0.7"/>
<text x="241.2" y="252.8" font-size="9.4" text-anchor="middle">15</text>
<line x1="249.19" x2="249.19" y1="242.7" y2="241.3" stroke="#333" stroke-width="0.7"/>
<line x1="256.33" x2="256.33" y1="242.7" y2="241.3" stroke="#333" stroke-width="0.7"/>
<line x1="263.46" x2="263.46" y1="242.7" y2="241.3" stroke="#333" stroke-width="0.7"/>
<rect x="171.4" y="147.2" width="99.2" height="95.5" fill="none" stroke="#3c3c3c" stroke-width="0.85"/>
<text x="221.1" y="141.8" font-size="11.7" text-anchor="middle"><tspan font-style="italic">ζ</tspan> = 15</text>
<text x="144.5" y="141.55" font-size="11">(<tspan font-style="italic" font-size="11" dx="0">d</tspan><tspan dx="1.9">)</tspan></text>
<circle cx="55.0" cy="289.9" r="1.5" fill="rgb(59,6,78)"/>
<circle cx="71.4" cy="291.3" r="1.5" fill="rgb(59,6,78)"/>
<circle cx="42.4" cy="305.6" r="1.5" fill="rgb(45,81,121)"/>
<circle cx="79.9" cy="311.6" r="1.5" fill="rgb(55,58,116)"/>
<circle cx="52.4" cy="319.1" r="1.5" fill="rgb(34,107,122)"/>
<circle cx="69.1" cy="320.1" r="1.5" fill="rgb(34,107,122)"/>
<circle cx="53.1" cy="325.4" r="1.5" fill="rgb(29,144,113)"/>
<circle cx="61.4" cy="327.7" r="1.5" fill="rgb(28,124,120)"/>
<circle cx="75.7" cy="327.3" r="1.5" fill="rgb(28,124,120)"/>
<circle cx="82.7" cy="329.1" r="1.5" fill="rgb(28,124,120)"/>
<circle cx="56.7" cy="334.8" r="1.5" fill="rgb(29,144,113)"/>
<circle cx="75.3" cy="333.7" r="1.5" fill="rgb(28,124,120)"/>
<circle cx="69.1" cy="339.4" r="1.5" fill="rgb(28,124,120)"/>
<circle cx="52.9" cy="341.6" r="1.5" fill="rgb(29,144,113)"/>
<circle cx="56.4" cy="342.0" r="1.5" fill="rgb(29,144,113)"/>
<circle cx="46.7" cy="345.1" r="1.5" fill="rgb(73,181,98)"/>
<circle cx="44.9" cy="347.0" r="1.5" fill="rgb(73,181,98)"/>
<circle cx="40.6" cy="350.9" r="1.5" fill="rgb(113,194,75)"/>
<circle cx="64.1" cy="348.7" r="1.5" fill="rgb(29,144,113)"/>
<circle cx="77.4" cy="350.4" r="1.5" fill="rgb(73,181,98)"/>
<circle cx="56.0" cy="352.0" r="1.5" fill="rgb(73,181,98)"/>
<circle cx="61.7" cy="353.0" r="1.5" fill="rgb(73,181,98)"/>
<circle cx="61.4" cy="354.4" r="1.5" fill="rgb(73,181,98)"/>
<circle cx="63.4" cy="356.6" r="1.5" fill="rgb(73,181,98)"/>
<circle cx="72.9" cy="355.1" r="1.5" fill="rgb(73,181,98)"/>
<circle cx="72.4" cy="356.9" r="1.5" fill="rgb(73,181,98)"/>
<circle cx="77.1" cy="355.6" r="1.5" fill="rgb(73,181,98)"/>
<circle cx="46.3" cy="356.6" r="1.5" fill="rgb(163,204,43)"/>
<circle cx="45.3" cy="358.0" r="1.5" fill="rgb(163,204,43)"/>
<circle cx="51.0" cy="358.7" r="1.5" fill="rgb(163,204,43)"/>
<circle cx="41.3" cy="368.4" r="1.5" fill="rgb(217,212,34)"/>
<circle cx="54.3" cy="368.4" r="1.5" fill="rgb(217,212,34)"/>
<circle cx="59.3" cy="363.7" r="1.5" fill="rgb(163,204,43)"/>
<circle cx="60.6" cy="363.0" r="1.5" fill="rgb(163,204,43)"/>
<circle cx="68.6" cy="363.7" r="1.5" fill="rgb(217,212,34)"/>
<circle cx="72.4" cy="365.4" r="1.5" fill="rgb(217,212,34)"/>
<circle cx="73.9" cy="367.0" r="1.5" fill="rgb(217,212,34)"/>
<circle cx="71.7" cy="370.9" r="1.5" fill="rgb(217,212,34)"/>
<circle cx="81.7" cy="363.4" r="1.5" fill="rgb(163,204,43)"/>
<circle cx="84.6" cy="363.4" r="1.5" fill="rgb(163,204,43)"/>
<circle cx="90.7" cy="330.1" r="1.5" fill="rgb(34,107,122)"/>
<circle cx="104.3" cy="330.4" r="1.5" fill="rgb(34,107,122)"/>
<circle cx="131.3" cy="334.4" r="1.5" fill="rgb(34,107,122)"/>
<circle cx="101.4" cy="346.9" r="1.5" fill="rgb(29,144,113)"/>
<circle cx="91.4" cy="348.3" r="1.5" fill="rgb(29,144,113)"/>
<circle cx="94.1" cy="351.6" r="1.5" fill="rgb(29,144,113)"/>
<circle cx="91.0" cy="354.9" r="1.5" fill="rgb(163,204,43)"/>
<circle cx="94.1" cy="359.0" r="1.5" fill="rgb(73,181,98)"/>
<circle cx="103.4" cy="361.6" r="1.5" fill="rgb(163,204,43)"/>
<line x1="36.3" x2="135.6" y1="372.87" y2="372.87" stroke="#b8b8b8" stroke-width="0.9" stroke-dasharray="3.05 1.9" stroke-dashoffset="-0.2"/>
<line x1="36.3" x2="38.0" y1="372.87" y2="372.87" stroke="#333" stroke-width="0.7"/>
<line x1="36.3" x2="135.6" y1="366.51" y2="366.51" stroke="#b8b8b8" stroke-width="0.9" stroke-dasharray="3.05 1.9" stroke-dashoffset="-0.2"/>
<line x1="36.3" x2="38.0" y1="366.51" y2="366.51" stroke="#333" stroke-width="0.7"/>
<line x1="36.3" x2="135.6" y1="353.79" y2="353.79" stroke="#b8b8b8" stroke-width="0.9" stroke-dasharray="3.05 1.9" stroke-dashoffset="-0.2"/>
<line x1="36.3" x2="38.0" y1="353.79" y2="353.79" stroke="#333" stroke-width="0.7"/>
<line x1="36.3" x2="135.6" y1="347.43" y2="347.43" stroke="#b8b8b8" stroke-width="0.9" stroke-dasharray="3.05 1.9" stroke-dashoffset="-0.2"/>
<line x1="36.3" x2="38.0" y1="347.43" y2="347.43" stroke="#333" stroke-width="0.7"/>
<line x1="36.3" x2="135.6" y1="341.07" y2="341.07" stroke="#b8b8b8" stroke-width="0.9" stroke-dasharray="3.05 1.9" stroke-dashoffset="-0.2"/>
<line x1="36.3" x2="38.0" y1="341.07" y2="341.07" stroke="#333" stroke-width="0.7"/>
<line x1="36.3" x2="135.6" y1="334.71" y2="334.71" stroke="#b8b8b8" stroke-width="0.9" stroke-dasharray="3.05 1.9" stroke-dashoffset="-0.2"/>
<line x1="36.3" x2="38.0" y1="334.71" y2="334.71" stroke="#333" stroke-width="0.7"/>
<line x1="36.3" x2="135.6" y1="321.99" y2="321.99" stroke="#b8b8b8" stroke-width="0.9" stroke-dasharray="3.05 1.9" stroke-dashoffset="-0.2"/>
<line x1="36.3" x2="38.0" y1="321.99" y2="321.99" stroke="#333" stroke-width="0.7"/>
<line x1="36.3" x2="135.6" y1="315.63" y2="315.63" stroke="#b8b8b8" stroke-width="0.9" stroke-dasharray="3.05 1.9" stroke-dashoffset="-0.2"/>
<line x1="36.3" x2="38.0" y1="315.63" y2="315.63" stroke="#333" stroke-width="0.7"/>
<line x1="36.3" x2="135.6" y1="309.27" y2="309.27" stroke="#b8b8b8" stroke-width="0.9" stroke-dasharray="3.05 1.9" stroke-dashoffset="-0.2"/>
<line x1="36.3" x2="38.0" y1="309.27" y2="309.27" stroke="#333" stroke-width="0.7"/>
<line x1="36.3" x2="135.6" y1="302.91" y2="302.91" stroke="#b8b8b8" stroke-width="0.9" stroke-dasharray="3.05 1.9" stroke-dashoffset="-0.2"/>
<line x1="36.3" x2="38.0" y1="302.91" y2="302.91" stroke="#333" stroke-width="0.7"/>
<line x1="36.3" x2="135.6" y1="290.19" y2="290.19" stroke="#b8b8b8" stroke-width="0.9" stroke-dasharray="3.05 1.9" stroke-dashoffset="-0.2"/>
<line x1="36.3" x2="38.0" y1="290.19" y2="290.19" stroke="#333" stroke-width="0.7"/>
<line x1="36.3" x2="135.6" y1="283.83" y2="283.83" stroke="#b8b8b8" stroke-width="0.9" stroke-dasharray="3.05 1.9" stroke-dashoffset="-0.2"/>
<line x1="36.3" x2="38.0" y1="283.83" y2="283.83" stroke="#333" stroke-width="0.7"/>
<line x1="36.3" x2="135.6" y1="360.15" y2="360.15" stroke="#111" stroke-width="1.05"/>
<text x="32.4" y="363.75" font-size="9.35" text-anchor="end">0</text>
<line x1="36.3" x2="135.6" y1="328.35" y2="328.35" stroke="#111" stroke-width="1.05"/>
<text x="32.4" y="331.95" font-size="9.35" text-anchor="end">0.1</text>
<line x1="36.3" x2="135.6" y1="296.55" y2="296.55" stroke="#111" stroke-width="1.05"/>
<text x="32.4" y="300.15" font-size="9.35" text-anchor="end">0.2</text>
<line x1="42.73" x2="42.73" y1="376.1" y2="374.7" stroke="#333" stroke-width="0.7"/>
<line x1="49.87" x2="49.87" y1="376.1" y2="374.7" stroke="#333" stroke-width="0.7"/>
<line x1="57.02" x2="57.02" y1="376.1" y2="374.7" stroke="#333" stroke-width="0.7"/>
<line x1="64.16" x2="64.16" y1="376.1" y2="374.7" stroke="#333" stroke-width="0.7"/>
<line x1="71.31" x2="71.31" y1="376.1" y2="373.1" stroke="#333" stroke-width="0.7"/>
<text x="71.1" y="387.1" font-size="9.4" text-anchor="middle">10</text>
<line x1="78.45" x2="78.45" y1="376.1" y2="374.7" stroke="#333" stroke-width="0.7"/>
<line x1="85.59" x2="85.59" y1="376.1" y2="374.7" stroke="#333" stroke-width="0.7"/>
<line x1="92.74" x2="92.74" y1="376.1" y2="374.7" stroke="#333" stroke-width="0.7"/>
<line x1="99.88" x2="99.88" y1="376.1" y2="374.7" stroke="#333" stroke-width="0.7"/>
<line x1="107.02" x2="107.02" y1="376.1" y2="373.1" stroke="#333" stroke-width="0.7"/>
<text x="106.8" y="387.1" font-size="9.4" text-anchor="middle">15</text>
<line x1="114.17" x2="114.17" y1="376.1" y2="374.7" stroke="#333" stroke-width="0.7"/>
<line x1="121.31" x2="121.31" y1="376.1" y2="374.7" stroke="#333" stroke-width="0.7"/>
<line x1="128.46" x2="128.46" y1="376.1" y2="374.7" stroke="#333" stroke-width="0.7"/>
<rect x="36.3" y="280.6" width="99.3" height="95.4" fill="none" stroke="#3c3c3c" stroke-width="0.85"/>
<text x="79.9" y="275.0" font-size="11.7" text-anchor="middle"><tspan font-style="italic">ζ</tspan> = 20</text>
<text x="1.2" y="274.80" font-size="11">(<tspan font-style="italic" font-size="11" dx="0">e</tspan><tspan dx="0">)</tspan></text>
<text x="1.0" y="330.7" font-size="11" font-style="italic">Π</text><text x="9.6" y="333.9" font-size="8.8" font-style="italic">T</text>
<text x="73.5" y="399.9" font-size="11.8" font-style="italic">λ<tspan font-style="normal">/</tspan><tspan dx="0.5">C</tspan><tspan font-size="8.6" dy="3.4" dx="0.3">f</tspan><tspan font-size="8.6" font-style="normal" dx="1.6">0</tspan></text>
<circle cx="189.9" cy="287.0" r="1.5" fill="rgb(59,6,78)"/>
<circle cx="206.3" cy="287.7" r="1.5" fill="rgb(59,6,78)"/>
<circle cx="177.1" cy="304.4" r="1.5" fill="rgb(45,81,121)"/>
<circle cx="214.6" cy="309.1" r="1.5" fill="rgb(55,58,116)"/>
<circle cx="187.1" cy="317.3" r="1.5" fill="rgb(34,107,122)"/>
<circle cx="203.9" cy="318.4" r="1.5" fill="rgb(34,107,122)"/>
<circle cx="187.9" cy="324.4" r="1.5" fill="rgb(29,144,113)"/>
<circle cx="196.3" cy="327.2" r="1.5" fill="rgb(28,124,120)"/>
<circle cx="210.6" cy="325.3" r="1.5" fill="rgb(28,124,120)"/>
<circle cx="217.4" cy="327.2" r="1.5" fill="rgb(28,124,120)"/>
<circle cx="191.4" cy="334.0" r="1.5" fill="rgb(29,144,113)"/>
<circle cx="210.0" cy="332.7" r="1.5" fill="rgb(28,124,120)"/>
<circle cx="203.6" cy="338.0" r="1.5" fill="rgb(28,124,120)"/>
<circle cx="187.9" cy="341.3" r="1.5" fill="rgb(29,144,113)"/>
<circle cx="191.0" cy="340.9" r="1.5" fill="rgb(29,144,113)"/>
<circle cx="181.4" cy="345.1" r="1.5" fill="rgb(73,181,98)"/>
<circle cx="179.9" cy="347.0" r="1.5" fill="rgb(73,181,98)"/>
<circle cx="175.3" cy="351.3" r="1.5" fill="rgb(113,194,75)"/>
<circle cx="198.9" cy="348.0" r="1.5" fill="rgb(29,144,113)"/>
<circle cx="212.1" cy="350.4" r="1.5" fill="rgb(73,181,98)"/>
<circle cx="191.0" cy="352.3" r="1.5" fill="rgb(73,181,98)"/>
<circle cx="196.4" cy="353.3" r="1.5" fill="rgb(73,181,98)"/>
<circle cx="196.0" cy="354.4" r="1.5" fill="rgb(73,181,98)"/>
<circle cx="198.1" cy="356.6" r="1.5" fill="rgb(73,181,98)"/>
<circle cx="207.9" cy="355.1" r="1.5" fill="rgb(73,181,98)"/>
<circle cx="207.0" cy="356.9" r="1.5" fill="rgb(73,181,98)"/>
<circle cx="212.1" cy="354.7" r="1.5" fill="rgb(73,181,98)"/>
<circle cx="181.0" cy="357.0" r="1.5" fill="rgb(163,204,43)"/>
<circle cx="179.9" cy="358.4" r="1.5" fill="rgb(163,204,43)"/>
<circle cx="185.7" cy="359.4" r="1.5" fill="rgb(163,204,43)"/>
<circle cx="176.3" cy="369.0" r="1.5" fill="rgb(217,212,34)"/>
<circle cx="189.3" cy="369.0" r="1.5" fill="rgb(217,212,34)"/>
<circle cx="193.9" cy="364.4" r="1.5" fill="rgb(163,204,43)"/>
<circle cx="195.3" cy="363.0" r="1.5" fill="rgb(163,204,43)"/>
<circle cx="203.1" cy="364.1" r="1.5" fill="rgb(217,212,34)"/>
<circle cx="207.1" cy="365.9" r="1.5" fill="rgb(217,212,34)"/>
<circle cx="208.9" cy="368.4" r="1.5" fill="rgb(217,212,34)"/>
<circle cx="206.4" cy="371.6" r="1.5" fill="rgb(217,212,34)"/>
<circle cx="216.4" cy="363.4" r="1.5" fill="rgb(163,204,43)"/>
<circle cx="219.1" cy="363.4" r="1.5" fill="rgb(163,204,43)"/>
<circle cx="225.6" cy="328.4" r="1.5" fill="rgb(34,107,122)"/>
<circle cx="239.1" cy="328.0" r="1.5" fill="rgb(34,107,122)"/>
<circle cx="266.0" cy="332.6" r="1.5" fill="rgb(34,107,122)"/>
<circle cx="236.3" cy="346.3" r="1.5" fill="rgb(29,144,113)"/>
<circle cx="226.3" cy="347.7" r="1.5" fill="rgb(29,144,113)"/>
<circle cx="228.9" cy="350.4" r="1.5" fill="rgb(29,144,113)"/>
<circle cx="225.7" cy="355.1" r="1.5" fill="rgb(163,204,43)"/>
<circle cx="228.6" cy="358.0" r="1.5" fill="rgb(73,181,98)"/>
<circle cx="238.4" cy="360.9" r="1.5" fill="rgb(73,181,98)"/>
<line x1="171.4" x2="270.6" y1="372.87" y2="372.87" stroke="#b8b8b8" stroke-width="0.9" stroke-dasharray="3.05 1.9" stroke-dashoffset="-0.2"/>
<line x1="171.4" x2="173.1" y1="372.87" y2="372.87" stroke="#333" stroke-width="0.7"/>
<line x1="171.4" x2="270.6" y1="366.51" y2="366.51" stroke="#b8b8b8" stroke-width="0.9" stroke-dasharray="3.05 1.9" stroke-dashoffset="-0.2"/>
<line x1="171.4" x2="173.1" y1="366.51" y2="366.51" stroke="#333" stroke-width="0.7"/>
<line x1="171.4" x2="270.6" y1="353.79" y2="353.79" stroke="#b8b8b8" stroke-width="0.9" stroke-dasharray="3.05 1.9" stroke-dashoffset="-0.2"/>
<line x1="171.4" x2="173.1" y1="353.79" y2="353.79" stroke="#333" stroke-width="0.7"/>
<line x1="171.4" x2="270.6" y1="347.43" y2="347.43" stroke="#b8b8b8" stroke-width="0.9" stroke-dasharray="3.05 1.9" stroke-dashoffset="-0.2"/>
<line x1="171.4" x2="173.1" y1="347.43" y2="347.43" stroke="#333" stroke-width="0.7"/>
<line x1="171.4" x2="270.6" y1="341.07" y2="341.07" stroke="#b8b8b8" stroke-width="0.9" stroke-dasharray="3.05 1.9" stroke-dashoffset="-0.2"/>
<line x1="171.4" x2="173.1" y1="341.07" y2="341.07" stroke="#333" stroke-width="0.7"/>
<line x1="171.4" x2="270.6" y1="334.71" y2="334.71" stroke="#b8b8b8" stroke-width="0.9" stroke-dasharray="3.05 1.9" stroke-dashoffset="-0.2"/>
<line x1="171.4" x2="173.1" y1="334.71" y2="334.71" stroke="#333" stroke-width="0.7"/>
<line x1="171.4" x2="270.6" y1="321.99" y2="321.99" stroke="#b8b8b8" stroke-width="0.9" stroke-dasharray="3.05 1.9" stroke-dashoffset="-0.2"/>
<line x1="171.4" x2="173.1" y1="321.99" y2="321.99" stroke="#333" stroke-width="0.7"/>
<line x1="171.4" x2="270.6" y1="315.63" y2="315.63" stroke="#b8b8b8" stroke-width="0.9" stroke-dasharray="3.05 1.9" stroke-dashoffset="-0.2"/>
<line x1="171.4" x2="173.1" y1="315.63" y2="315.63" stroke="#333" stroke-width="0.7"/>
<line x1="171.4" x2="270.6" y1="309.27" y2="309.27" stroke="#b8b8b8" stroke-width="0.9" stroke-dasharray="3.05 1.9" stroke-dashoffset="-0.2"/>
<line x1="171.4" x2="173.1" y1="309.27" y2="309.27" stroke="#333" stroke-width="0.7"/>
<line x1="171.4" x2="270.6" y1="302.91" y2="302.91" stroke="#b8b8b8" stroke-width="0.9" stroke-dasharray="3.05 1.9" stroke-dashoffset="-0.2"/>
<line x1="171.4" x2="173.1" y1="302.91" y2="302.91" stroke="#333" stroke-width="0.7"/>
<line x1="171.4" x2="270.6" y1="290.19" y2="290.19" stroke="#b8b8b8" stroke-width="0.9" stroke-dasharray="3.05 1.9" stroke-dashoffset="-0.2"/>
<line x1="171.4" x2="173.1" y1="290.19" y2="290.19" stroke="#333" stroke-width="0.7"/>
<line x1="171.4" x2="270.6" y1="283.83" y2="283.83" stroke="#b8b8b8" stroke-width="0.9" stroke-dasharray="3.05 1.9" stroke-dashoffset="-0.2"/>
<line x1="171.4" x2="173.1" y1="283.83" y2="283.83" stroke="#333" stroke-width="0.7"/>
<line x1="171.4" x2="270.6" y1="360.15" y2="360.15" stroke="#111" stroke-width="1.05"/>
<text x="166.9" y="363.75" font-size="9.35" text-anchor="end">0</text>
<line x1="171.4" x2="270.6" y1="328.35" y2="328.35" stroke="#111" stroke-width="1.05"/>
<text x="166.9" y="331.95" font-size="9.35" text-anchor="end">0.1</text>
<line x1="171.4" x2="270.6" y1="296.55" y2="296.55" stroke="#111" stroke-width="1.05"/>
<text x="166.9" y="300.15" font-size="9.35" text-anchor="end">0.2</text>
<line x1="177.82" x2="177.82" y1="376.1" y2="374.7" stroke="#333" stroke-width="0.7"/>
<line x1="184.96" x2="184.96" y1="376.1" y2="374.7" stroke="#333" stroke-width="0.7"/>
<line x1="192.10" x2="192.10" y1="376.1" y2="374.7" stroke="#333" stroke-width="0.7"/>
<line x1="199.23" x2="199.23" y1="376.1" y2="374.7" stroke="#333" stroke-width="0.7"/>
<line x1="206.37" x2="206.37" y1="376.1" y2="373.1" stroke="#333" stroke-width="0.7"/>
<text x="205.5" y="387.1" font-size="9.4" text-anchor="middle">10</text>
<line x1="213.51" x2="213.51" y1="376.1" y2="374.7" stroke="#333" stroke-width="0.7"/>
<line x1="220.64" x2="220.64" y1="376.1" y2="374.7" stroke="#333" stroke-width="0.7"/>
<line x1="227.78" x2="227.78" y1="376.1" y2="374.7" stroke="#333" stroke-width="0.7"/>
<line x1="234.92" x2="234.92" y1="376.1" y2="374.7" stroke="#333" stroke-width="0.7"/>
<line x1="242.05" x2="242.05" y1="376.1" y2="373.1" stroke="#333" stroke-width="0.7"/>
<text x="241.2" y="387.1" font-size="9.4" text-anchor="middle">15</text>
<line x1="249.19" x2="249.19" y1="376.1" y2="374.7" stroke="#333" stroke-width="0.7"/>
<line x1="256.33" x2="256.33" y1="376.1" y2="374.7" stroke="#333" stroke-width="0.7"/>
<line x1="263.46" x2="263.46" y1="376.1" y2="374.7" stroke="#333" stroke-width="0.7"/>
<rect x="171.4" y="280.6" width="99.2" height="95.4" fill="none" stroke="#3c3c3c" stroke-width="0.85"/>
<text x="221.1" y="275.0" font-size="11.7" text-anchor="middle"><tspan font-style="italic">ζ</tspan> = 25</text>
<text x="144.1" y="274.80" font-size="11">(<tspan font-style="italic" font-size="12.4" dx="2.0">f</tspan><tspan dx="3.2">)</tspan></text>
<text x="209.2" y="399.9" font-size="11.8" font-style="italic">λ<tspan font-style="normal">/</tspan><tspan dx="0.5">C</tspan><tspan font-size="8.6" dy="3.4" dx="0.3">f</tspan><tspan font-size="8.6" font-style="normal" dx="1.6">0</tspan></text>
<rect x="286.1" y="12.2" width="19.8" height="383.3" fill="url(#vg)" stroke="#222" stroke-width="0.75"/>
<line x1="302.7" x2="305.9" y1="61.30" y2="61.30" stroke="#222" stroke-width="0.8"/>
<text x="308.2" y="64.7" font-size="9.2">0.750</text>
<line x1="302.7" x2="305.9" y1="111.97" y2="111.97" stroke="#222" stroke-width="0.8"/>
<text x="308.2" y="115.4" font-size="9.2">0.725</text>
<line x1="302.7" x2="305.9" y1="162.64" y2="162.64" stroke="#222" stroke-width="0.8"/>
<text x="308.2" y="166.0" font-size="9.2">0.700</text>
<line x1="302.7" x2="305.9" y1="213.31" y2="213.31" stroke="#222" stroke-width="0.8"/>
<text x="308.2" y="216.7" font-size="9.2">0.675</text>
<line x1="302.7" x2="305.9" y1="263.98" y2="263.98" stroke="#222" stroke-width="0.8"/>
<text x="308.2" y="267.4" font-size="9.2">0.650</text>
<line x1="302.7" x2="305.9" y1="314.65" y2="314.65" stroke="#222" stroke-width="0.8"/>
<text x="308.2" y="318.1" font-size="9.2">0.625</text>
<line x1="302.7" x2="305.9" y1="365.32" y2="365.32" stroke="#222" stroke-width="0.8"/>
<text x="308.2" y="368.7" font-size="9.2">0.600</text>
<line x1="337.8" x2="351" y1="195.2" y2="195.2" stroke="#222" stroke-width="0.8"/>
<text x="337.3" y="204.7" font-size="11.5" font-style="italic">C<tspan font-size="8" dy="3.2" dx="-0.5">T</tspan></text>
<text x="345.6" y="203.2" font-size="8">*</text>
</svg></body></html>
